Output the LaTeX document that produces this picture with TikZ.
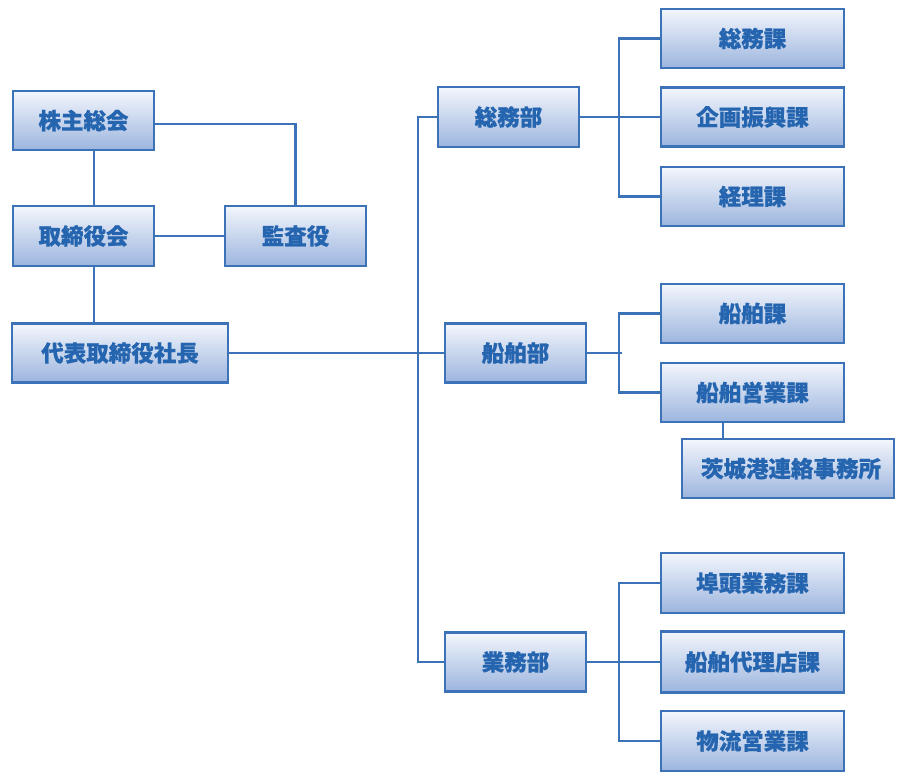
\documentclass[tikz,border=0pt]{standalone}
\usepackage{fontspec}
\newfontfamily\jp{Noto Sans CJK JP}[BoldFeatures={FakeBold=0.6}]
\definecolor{bordc}{HTML}{3B72B8}
\definecolor{txtc}{HTML}{2565B0}
\definecolor{topc}{HTML}{F3F6FC}
\definecolor{botc}{HTML}{9CB5DE}
\tikzset{
  orgbox/.style={draw=bordc, line width=2.4pt, top color=topc, bottom color=botc,
    inner sep=0pt, text=txtc, font=\jp\bfseries\fontsize{22.5}{26}\selectfont},
  conn/.style={draw=bordc, line width=2.4pt},
}
\begin{document}
\begin{tikzpicture}[x=1pt,y=-1pt]
\useasboundingbox[fill=white] (0,0) rectangle (900,782);
% left side
\node[orgbox, minimum width=141pt, minimum height=59pt] (kabu) at (83.5,120.5) {株主総会};
\node[orgbox, minimum width=141pt, minimum height=60pt] (tori) at (83.5,236) {取締役会};
\node[orgbox, minimum width=141pt, minimum height=60pt] (kansa) at (295.5,236) {監査役};
\node[orgbox, minimum width=216pt, minimum height=59pt] (daihyo) at (120,353) {代表取締役社長};
% departments
\node[orgbox, minimum width=141pt, minimum height=60pt] (somubu) at (508.5,117) {総務部};
\node[orgbox, minimum width=141pt, minimum height=59pt] (senpakubu) at (515.5,353) {船舶部};
\node[orgbox, minimum width=141pt, minimum height=59pt] (gyomubu) at (515.5,662) {業務部};
% sections
\node[orgbox, minimum width=183pt, minimum height=59pt] (somuka) at (752.5,38.5) {総務課};
\node[orgbox, minimum width=183pt, minimum height=59pt] (kikaku) at (752.5,117) {企画振興課};
\node[orgbox, minimum width=183pt, minimum height=59pt] (keiri) at (752.5,196.5) {経理課};
\node[orgbox, minimum width=183pt, minimum height=59pt] (senpakuka) at (752.5,313.5) {船舶課};
\node[orgbox, minimum width=183pt, minimum height=59pt] (eigyo) at (752.5,392.5) {船舶営業課};
\node[orgbox, minimum width=212pt, minimum height=59pt] (ibaraki) at (788,468.5) {\hspace*{6pt}茨城港連絡事務所};
\node[orgbox, minimum width=183pt, minimum height=60pt] (futo) at (752.5,583) {埠頭業務課};
\node[orgbox, minimum width=183pt, minimum height=61pt] (dairi) at (752.5,662) {船舶代理店課};
\node[orgbox, minimum width=183pt, minimum height=60pt] (butsuryu) at (752.5,741) {物流営業課};
% connectors
\draw[conn] ([xshift=10.5pt]kabu.south) -- ([xshift=10.5pt]tori.north);
\draw[conn] ([xshift=10.5pt]tori.south) -- ([xshift=10.5pt]tori.south |- daihyo.north);
\draw[conn] ([yshift=-3.5pt]kabu.east) -| (kansa.north);
\draw[conn] (tori.east) -- (kansa.west);
\draw[conn] (daihyo.east) -- (senpakubu.west);
\coordinate (t1) at (418,117);
\coordinate (t2) at (418,662);
\draw[conn] (somubu.west) -- (t1) -- (t2) -- (gyomubu.west);
% somubu branch
\draw[conn] (somuka.west) -- ++(-41,0) |- (keiri.west);
\draw[conn] (somubu.east) -- (somubu.east -| kikaku.west);
% senpakubu branch
\draw[conn] (senpakuka.west) -- ++(-41,0) |- (eigyo.west);
\draw[conn] (senpakubu.east) -- ++(34.5,0);
\draw[conn] ([xshift=-29.5pt]eigyo.south) -- ++(0,17);
% gyomubu branch
\draw[conn] (futo.west) -- ++(-41,0) |- (butsuryu.west);
\draw[conn] (gyomubu.east) -- (gyomubu.east -| dairi.west);
\end{tikzpicture}
\end{document}
